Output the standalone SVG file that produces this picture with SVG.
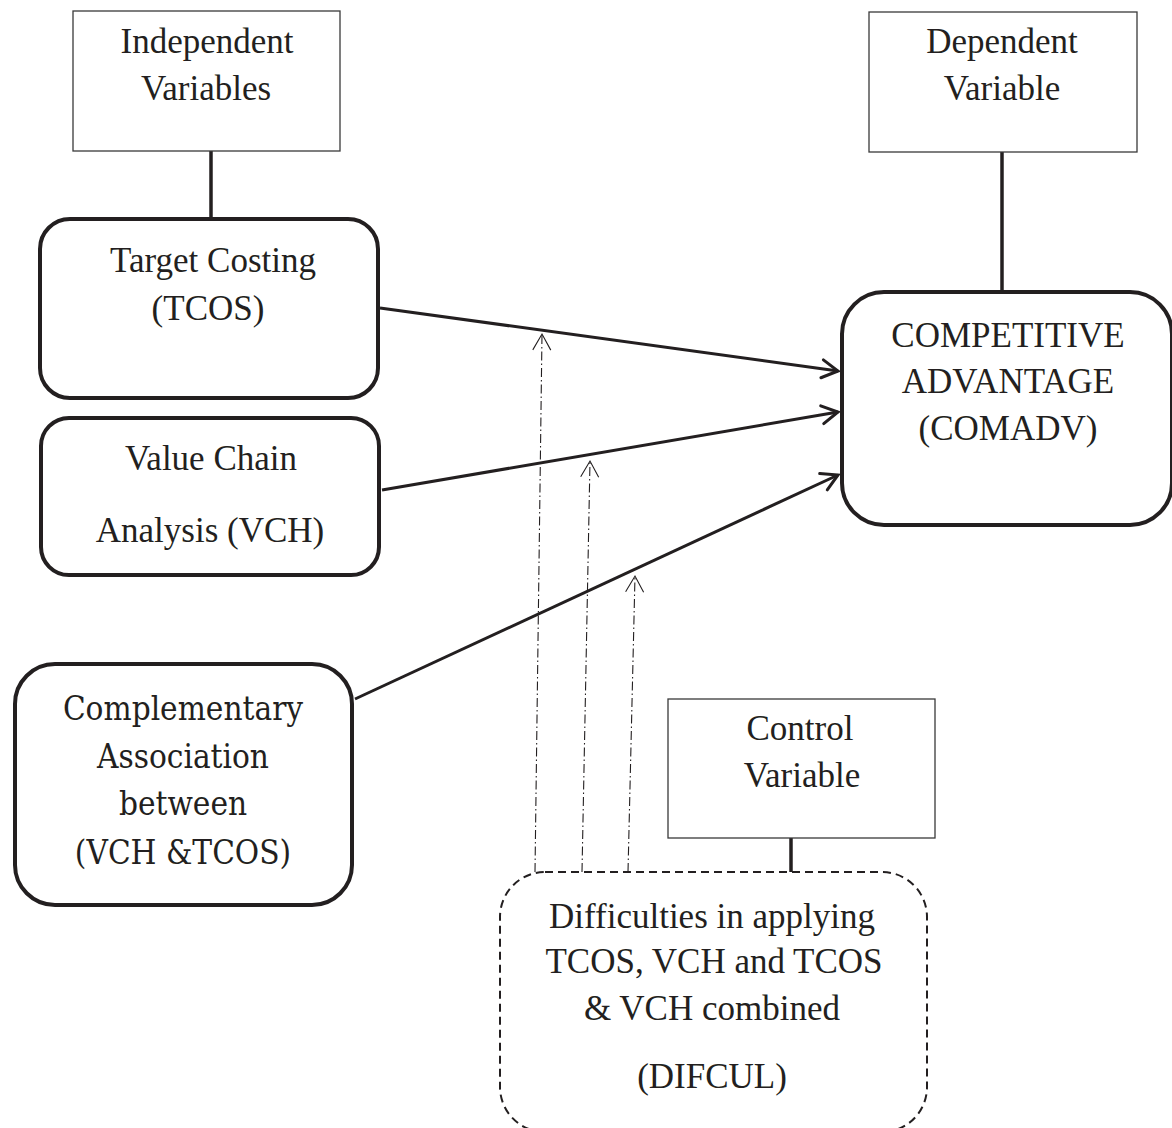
<svg xmlns="http://www.w3.org/2000/svg" width="1172" height="1128" viewBox="0 0 1172 1128">
<style>
.lbl{font-family:"Liberation Serif","Times New Roman",serif;font-size:35px;fill:#231f20;text-anchor:middle}
.cmb{font-family:"DejaVu Serif Condensed","DejaVu Serif",serif;font-stretch:condensed;font-size:33px;fill:#231f20;text-anchor:middle}
.thin{fill:#fff;stroke:#3a3a3a;stroke-width:1.3}
.thick{fill:#fff;stroke:#231f20;stroke-width:4}
.dash{fill:#fff;stroke:#231f20;stroke-width:2;stroke-dasharray:8 5}
.link{stroke:#231f20;stroke-width:3.5;fill:none}
.arrow{stroke:#231f20;stroke-width:3;fill:none}
.dd{stroke:#231f20;stroke-width:1.1;fill:none;stroke-dasharray:9 3 1.5 3}
</style>
<defs>
<marker id="ah" markerUnits="userSpaceOnUse" markerWidth="30" markerHeight="30" viewBox="-20 -15 30 30" refX="0" refY="0" orient="auto" overflow="visible">
<path d="M-16,-9 L0,0 L-16,9" fill="none" stroke="#231f20" stroke-width="3" stroke-linecap="round"/>
</marker>
<marker id="ahThin" markerUnits="userSpaceOnUse" markerWidth="30" markerHeight="30" viewBox="-20 -15 30 30" refX="0" refY="0" orient="auto" overflow="visible">
<path d="M-16,-9 L0,0 L-16,9" fill="none" stroke="#231f20" stroke-width="1.1"/>
</marker>
</defs>
<rect width="1172" height="1128" fill="#fff"/>

<g id="connectors">
<line class="link" x1="211" y1="151" x2="211" y2="219"/>
<line class="link" x1="1002" y1="152" x2="1002" y2="292"/>
<line class="link" x1="791" y1="838" x2="791" y2="872"/>
<line class="arrow" x1="380" y1="308" x2="838" y2="371" marker-end="url(#ah)"/>
<line class="arrow" x1="382" y1="490" x2="838" y2="412" marker-end="url(#ah)"/>
<line class="arrow" x1="355" y1="699" x2="838" y2="475" marker-end="url(#ah)"/>
<line class="dd" x1="535" y1="872" x2="542" y2="334" marker-end="url(#ahThin)"/>
<line class="dd" x1="582" y1="872" x2="590" y2="461" marker-end="url(#ahThin)"/>
<line class="dd" x1="628" y1="872" x2="635" y2="576" marker-end="url(#ahThin)"/>
</g>

<g id="independent-variables">
<rect class="thin" x="73" y="11" width="267" height="140"/>
<text class="lbl" x="207" y="53">Independent</text>
<text class="lbl" x="206" y="100">Variables</text>
</g>

<g id="dependent-variable">
<rect class="thin" x="869" y="12" width="268" height="140"/>
<text class="lbl" x="1002" y="53">Dependent</text>
<text class="lbl" x="1002" y="100">Variable</text>
</g>

<g id="target-costing">
<rect class="thick" x="40" y="219" width="338" height="179" rx="30"/>
<text class="lbl" x="213" y="272">Target Costing</text>
<text class="lbl" x="208" y="320">(TCOS)</text>
</g>

<g id="value-chain">
<rect class="thick" x="41" y="418" width="338" height="157" rx="28"/>
<text class="lbl" x="211" y="470">Value Chain</text>
<text class="lbl" x="210" y="542">Analysis (VCH)</text>
</g>

<g id="complementary">
<rect class="thick" x="15" y="664" width="337" height="241" rx="40"/>
<text class="cmb" x="183" y="720">Complementary</text>
<text class="cmb" x="183" y="768">Association</text>
<text class="cmb" x="183" y="815">between</text>
<text class="cmb" x="183" y="864">(VCH &amp;TCOS)</text>
</g>

<g id="competitive-advantage">
<rect class="thick" x="842" y="292" width="330" height="233" rx="42"/>
<text class="lbl" x="1008" y="347">COMPETITIVE</text>
<text class="lbl" x="1008" y="393">ADVANTAGE</text>
<text class="lbl" x="1008" y="440">(COMADV)</text>
</g>

<g id="control-variable">
<rect class="thin" x="668" y="699" width="267" height="139"/>
<text class="lbl" x="800" y="740">Control</text>
<text class="lbl" x="802" y="787">Variable</text>
</g>

<g id="difficulties">
<rect class="dash" x="500" y="872" width="427" height="260" rx="45"/>
<text class="lbl" x="712" y="928">Difficulties in applying</text>
<text class="lbl" x="714" y="973">TCOS, VCH and TCOS</text>
<text class="lbl" x="712" y="1020">&amp; VCH combined</text>
<text class="lbl" x="712" y="1088">(DIFCUL)</text>
</g>
</svg>
